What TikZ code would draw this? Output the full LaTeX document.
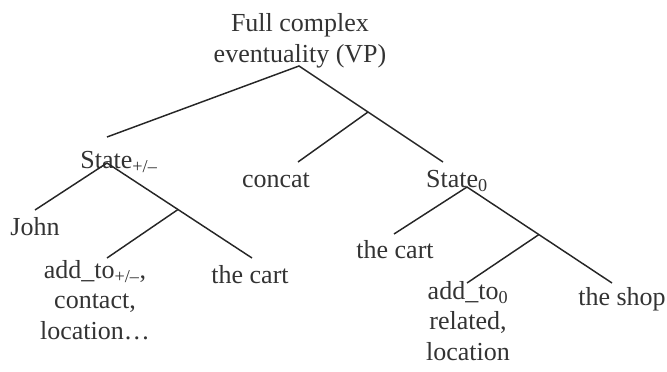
\documentclass[tikz,border=0pt]{standalone}
\usepackage{fontspec}
\setmainfont{Liberation Serif}
\usetikzlibrary{positioning}
\tikzset{
  lbl/.style={anchor=base, inner sep=0pt, align=center, text=black!80,
    font=\fontsize{19.5}{22.8}\selectfont},
  br/.style={line width=1.1pt, black!85}
}

\begin{document}
\begin{tikzpicture}[x=0.75pt,y=-0.75pt]
        \useasboundingbox (0,0) rectangle (667,371);
        % labels (multi-line ones sit on their last line)
        \node[lbl] (root) at (300,62) {Full complex\\eventuality (VP)};
        \node[lbl] (sL) at (119,168) {State\textsubscript{+/--}};
        \node[lbl] (concat) at (276,187) {concat};
        \node[lbl] (sR) at (457,187) {State\textsubscript{0}};
        \node[lbl] (john) at (35,235) {John};
        \node[lbl] (cartL) at (250,283) {the cart};
        \node[lbl] (addL) at (95,339) {add\_to\textsubscript{+/--},\\contact,\\location…};
        \node[lbl] (cartR) at (395,258) {the cart};
        \node[lbl] (shop) at (622,305) {the shop};
        \node[lbl] (addR) at (468,360) {add\_to\textsubscript{0}\\related,\\location};
        % branch points
        \coordinate (top) at (299,66);
        \coordinate (j1) at (368,112);
        \coordinate (lEnd) at (107,137);
        \coordinate (rEnd) at (443,162);
        \coordinate (cEnd) at (298,162);
        \coordinate (sLtop) at (107,163);
        \coordinate (j2) at (178,209.5);
        \coordinate (johnEnd) at (35,210);
        \coordinate (cartLEnd) at (252,258);
        \coordinate (addLEnd) at (107,258);
        \coordinate (sRtop) at (467,187);
        \coordinate (j3) at (539,234.5);
        \coordinate (cartREnd) at (394,234);
        \coordinate (shopEnd) at (612,283);
        \coordinate (addREnd) at (467,283);
        % branches
        \draw[br] (lEnd) -- (top) -- (rEnd);
        \draw[br] (j1) -- (cEnd);
        \draw[br] (johnEnd) -- (sLtop) -- (cartLEnd);
        \draw[br] (j2) -- (addLEnd);
        \draw[br] (cartREnd) -- (sRtop) -- (shopEnd);
        \draw[br] (j3) -- (addREnd);
\end{tikzpicture}
\end{document}
